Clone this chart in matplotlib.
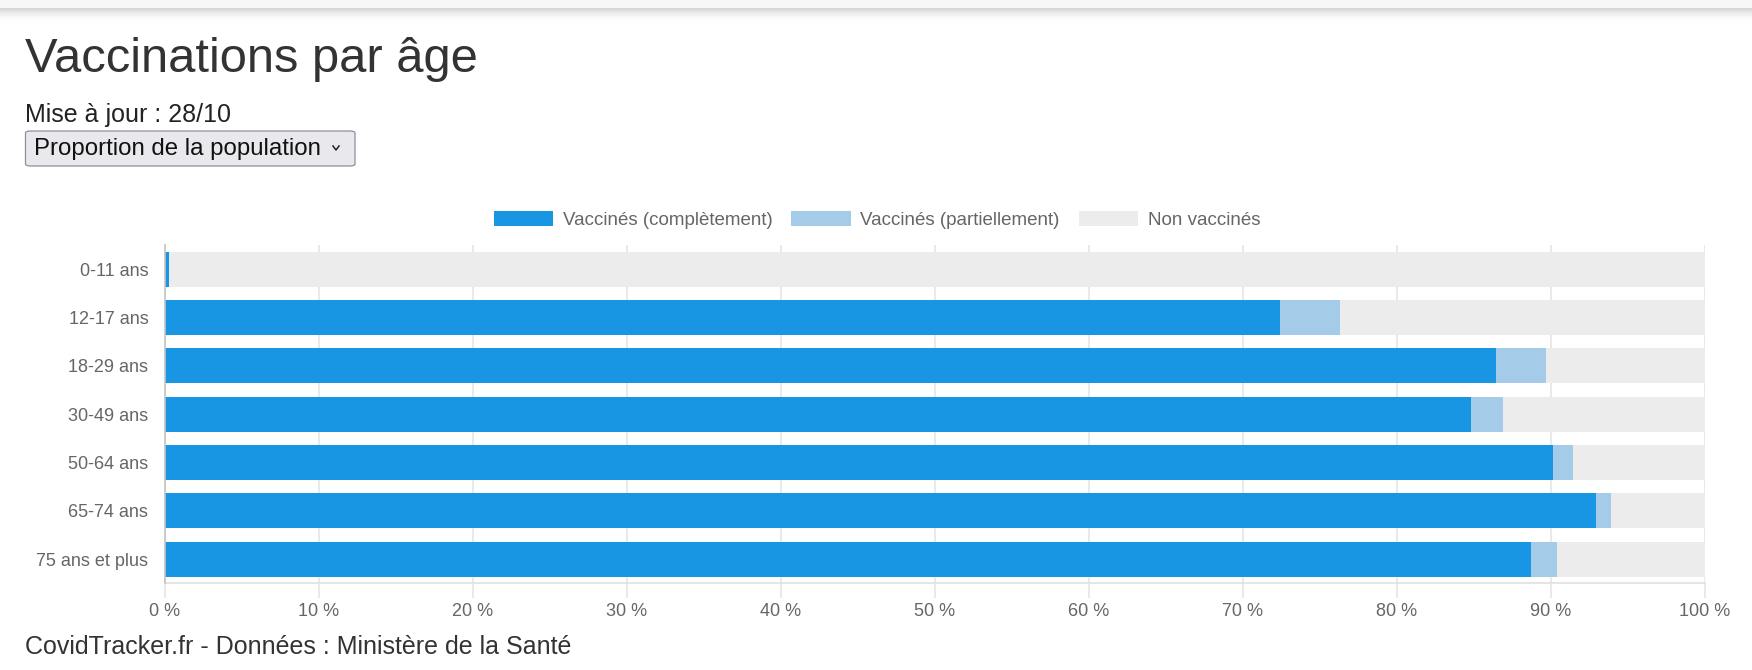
import numpy as np
import matplotlib.pyplot as plt
from matplotlib.patches import FancyBboxPatch
from matplotlib.lines import Line2D

# données (proportion de la population, en %)
ages = ['0-11 ans', '12-17 ans', '18-29 ans', '30-49 ans',
        '50-64 ans', '65-74 ans', '75 ans et plus']
complet = [0.25, 72.4, 86.4, 84.8, 90.1, 92.9, 88.7]
partiel = [0.0, 3.9, 3.3, 2.1, 1.3, 1.0, 1.7]
xticks = [0, 10, 20, 30, 40, 50, 60, 70, 80, 90, 100]

W, H = 1752, 670
plt.rcParams['font.family'] = ['Liberation Sans', 'DejaVu Sans']

fig = plt.figure(figsize=(W / 100, H / 100), dpi=100)
fig.patch.set_facecolor('white')


def px(x, y):
    return x / W, 1 - y / H


# bandeau gris du haut avec ombre
top = fig.add_axes([0, 1 - 24 / H, 1, 24 / H])
rows = np.array([247] * 8 + [214, 218, 223, 228, 233, 237, 241, 244, 247,
                             249, 251, 252, 253, 254, 255, 255], dtype=float)
top.imshow(np.tile(rows[:, None], (1, 4)), cmap='gray', vmin=0, vmax=255,
           aspect='auto', interpolation='nearest')
top.axis('off')

# textes d'en-tête
fig.text(*px(25, 71.7), 'Vaccinations par âge', fontsize=35.2, color='#333333',
         va='baseline', ha='left')
fig.text(*px(25, 121.7), 'Mise à jour : 28/10', fontsize=18, color='#222222',
         va='baseline', ha='left')

box = FancyBboxPatch(px(25.5, 166), (355 - 25.5) / W, (166 - 131) / H,
                     boxstyle='round,pad=0,rounding_size=0.003',
                     transform=fig.transFigure, facecolor='#e9e9ed',
                     edgecolor='#8f8f9d', linewidth=0.9)
fig.patches.append(box)
fig.text(*px(34, 148.5), 'Proportion de la population', fontsize=17.3,
         color='#111111', va='center', ha='left')
chev_x = [333 / W, 336 / W, 339 / W]
chev_y = [1 - 146 / H, 1 - 150 / H, 1 - 146 / H]
fig.lines.append(Line2D(chev_x, chev_y, transform=fig.transFigure,
                        color='#222222', linewidth=1.1))

# graphique
ax = fig.add_axes([165 / W, 1 - 583.3 / H, (1705 - 165) / W, (583.3 - 245) / H])
y = np.arange(len(ages))
complet = np.array(complet)
partiel = np.array(partiel)
non_vacc = 100 - complet - partiel

ax.barh(y, complet, height=0.72, color='#1996e3', label='Vaccinés (complètement)', zorder=3)
ax.barh(y, partiel, left=complet, height=0.72, color='#a4cbe7',
        label='Vaccinés (partiellement)', zorder=3)
ax.barh(y, non_vacc, left=complet + partiel, height=0.72, color='#ececec',
        label='Non vaccinés', zorder=3)

ax.set_xlim(0, 100)
ax.set_ylim(len(ages) - 0.5, -0.5)
ax.set_yticks(y)
ax.set_yticklabels(ages)
ax.set_xticks(xticks)
ax.set_xticklabels([f'{t} %' for t in xticks])
ax.grid(axis='x', color='#e5e5e5', linewidth=1.2, zorder=0)
ax.tick_params(axis='y', length=0, pad=12, labelsize=13, labelcolor='#666666')
ax.tick_params(axis='x', length=11, width=1.2, color='#e5e5e5', pad=3,
               labelsize=13, labelcolor='#666666')
for s in ['top', 'right']:
    ax.spines[s].set_visible(False)
ax.spines['left'].set_color('#c4c4c4')
ax.spines['left'].set_linewidth(1.2)
ax.spines['bottom'].set_color('#e0e0e0')
ax.spines['bottom'].set_linewidth(1.2)
ax.spines['left'].set_zorder(4)

fig.legend(loc='center', bbox_to_anchor=px(877, 220), ncol=3, frameon=False,
           fontsize=13.5, labelcolor='#666666', handlelength=3.15,
           handleheight=0.9, handletextpad=0.53, columnspacing=1.0,
           borderaxespad=0, borderpad=0)

fig.text(*px(25, 654), 'CovidTracker.fr - Données : Ministère de la Santé',
         fontsize=18, color='#333333', va='baseline', ha='left')

fig.savefig('out.png', dpi=100, facecolor='white')
